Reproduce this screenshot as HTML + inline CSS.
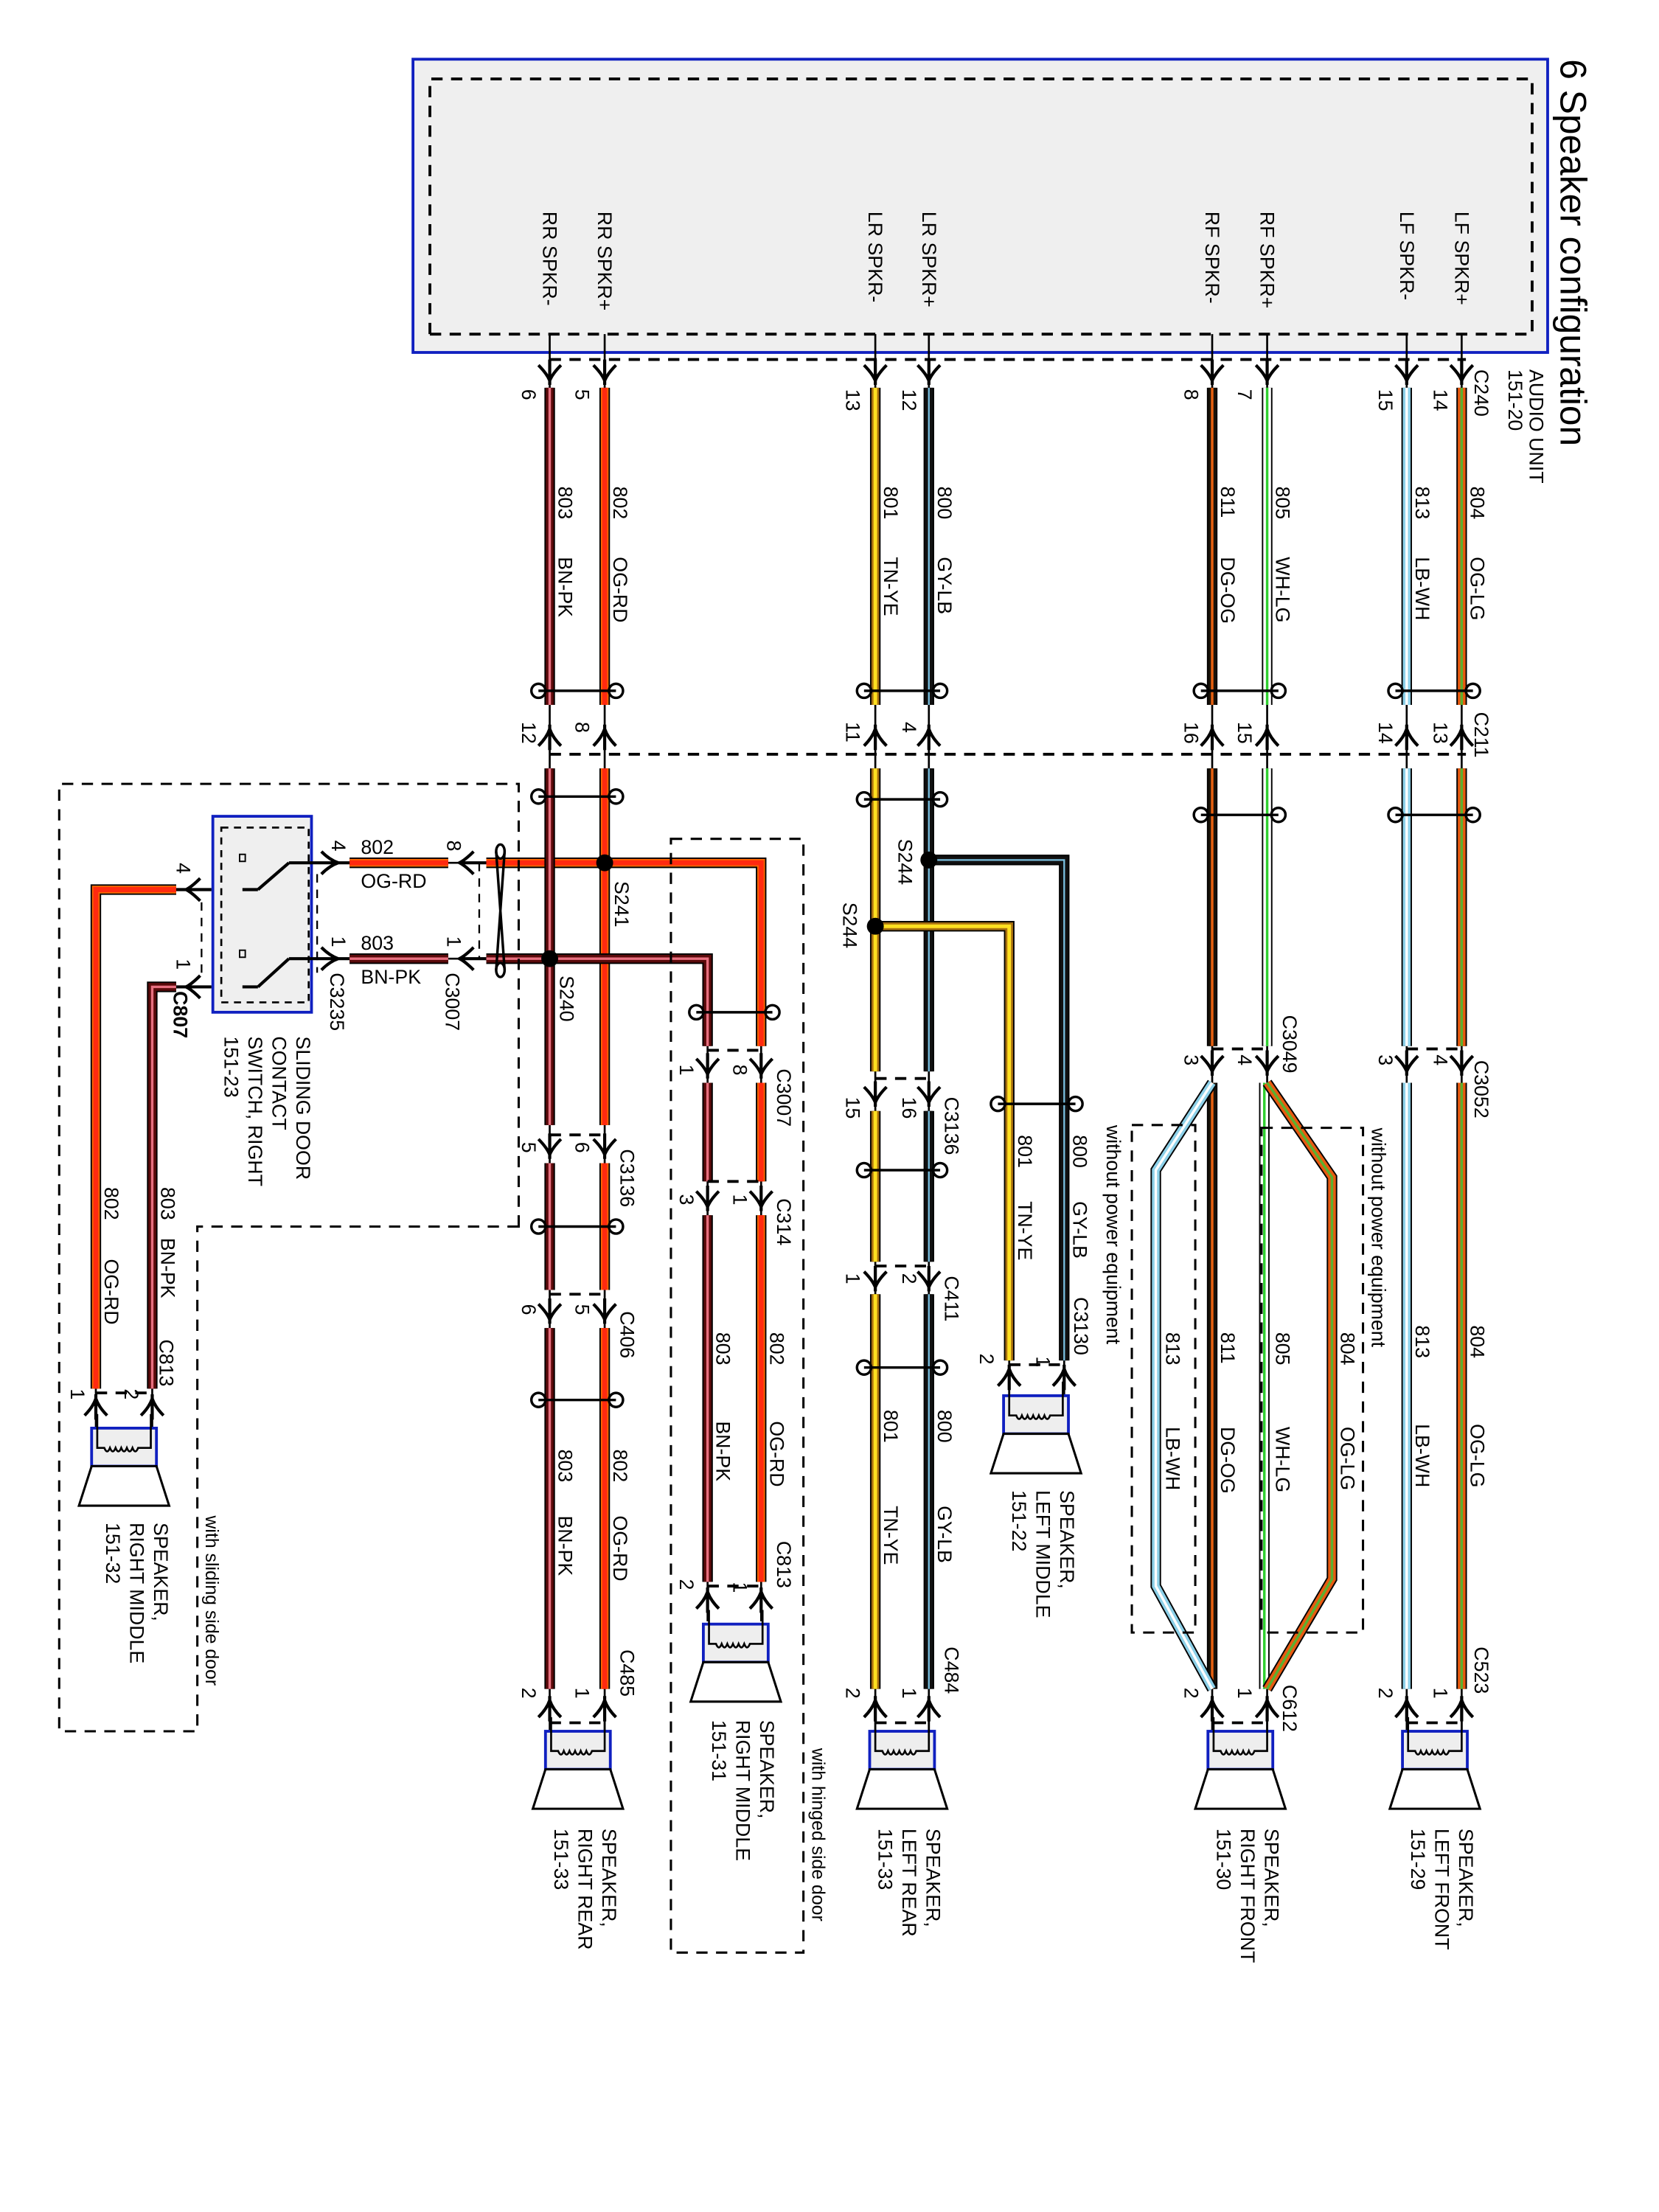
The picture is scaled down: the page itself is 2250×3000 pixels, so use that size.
<!DOCTYPE html>
<html><head><meta charset="utf-8"><style>
html,body{margin:0;padding:0;background:#fff}
svg{display:block}
text{font-family:"Liberation Sans",Arial,sans-serif;font-size:14px;fill:#000;dominant-baseline:central}
.k{stroke:#000;stroke-width:7.5;fill:none}
.c{stroke-width:5.5;fill:none}
.s{stroke-width:1.8;fill:none}
.t{stroke:#000;stroke-width:1.4;fill:none}
.d{stroke:#000;stroke-width:2;fill:none;stroke-dasharray:8 6}
.dt{stroke:#000;stroke-width:1.2;fill:none;stroke-dasharray:6 5}
.a{stroke:#000;stroke-width:2.2;fill:none}
</style></head><body>
<svg width="2250" height="3000" viewBox="0 0 1177 1569" preserveAspectRatio="none" xmlns="http://www.w3.org/2000/svg">
<defs>
<g id="arr"><path class="a" d="M-8 -5 Q-2 1 0 6 Q2 1 8 -5 M0 -9 V9"/></g>
<g id="aru"><path class="a" d="M-8 6 Q-2 0 0 -6 Q2 0 8 6 M0 -9 V9"/></g>
<g id="spk">
<rect x="-23" y="0" width="46" height="27" fill="#eee" stroke="#1020c0" stroke-width="2"/>
<path class="t" d="M-19 -10 V14 H-14 q2 5 4 0 q2 5 4 0 q2 5 4 0 q2 5 4 0 q2 5 4 0 q2 5 4 0 H19 V-10"/>
<path d="M-23 27 H23 L32 55 H-32 Z" fill="#fff" stroke="#000" stroke-width="1.6"/>
</g>
</defs>

<!-- Audio unit -->
<rect x="293" y="42" width="805" height="208" fill="#efefef" stroke="#1020c0" stroke-width="2"/>
<path class="d" d="M305 237 V56 H1087 V237 H305"/>
<path class="d" d="M390 255 H1040"/>
<text transform="translate(1116,42) rotate(90)" style="font-size:26px">6 Speaker configuration</text>
<text transform="translate(1090,262) rotate(90)">AUDIO UNIT</text>
<text transform="translate(1075,262) rotate(90)">151-20</text>
<text transform="translate(1051,262) rotate(90)">C240</text>
<text transform="translate(1037,150) rotate(90)">LF SPKR+</text>
<text transform="translate(998,150) rotate(90)">LF SPKR-</text>
<text transform="translate(899,150) rotate(90)">RF SPKR+</text>
<text transform="translate(860,150) rotate(90)">RF SPKR-</text>
<text transform="translate(659,150) rotate(90)">LR SPKR+</text>
<text transform="translate(621,150) rotate(90)">LR SPKR-</text>
<text transform="translate(429,150) rotate(90)">RR SPKR+</text>
<text transform="translate(390,150) rotate(90)">RR SPKR-</text>

<!-- thin under-lines -->
<path class="t" d="M1037 237 V1228 M998 237 V1228 M899 237 V1228 M860 237 V1228 M659 237 V1228 M621 237 V1228 M429 237 V1228 M390 237 V1228 M540 742 V1150 M502 742 V1150 M755 900 V992 M716 900 V992 M68 960 V1013 M108 960 V1013 M345 612 H318 M345 680 H318 M248 612 H215 M248 680 H215 M125 631 H150 M125 700 H150"/>

<!-- LF -->
<g><path class="k" d="M1037 275 V500 M1037 545 V742 M1037 768 V1198"/><path class="c" stroke="#e85a10" d="M1037 275 V500 M1037 545 V742 M1037 768 V1198"/><path class="s" stroke="#5bb030" d="M1037 275 V500 M1037 545 V742 M1037 768 V1198"/></g>
<g><path class="k" d="M998 275 V500 M998 545 V742 M998 768 V1198"/><path class="c" stroke="#8cd0e8" d="M998 275 V500 M998 545 V742 M998 768 V1198"/><path class="s" stroke="#fff" d="M998 275 V500 M998 545 V742 M998 768 V1198"/></g>
<!-- RF -->
<g><path class="k" d="M899 275 V500 M899 545 V742 M897 768 V1198"/><path class="c" stroke="#fff" d="M899 275 V500 M899 545 V742 M897 768 V1198"/><path class="s" stroke="#30d030" d="M899 275 V500 M899 545 V742 M897 768 V1198"/></g>
<g><path class="k" d="M860 275 V500 M860 545 V742 M860 768 V1198"/><path class="c" stroke="#1a1208" d="M860 275 V500 M860 545 V742 M860 768 V1198"/><path class="s" stroke="#e86010" d="M860 275 V500 M860 545 V742 M860 768 V1198"/></g>
<g><path class="k" d="M899 768 L945 835 V1120 L899 1198"/><path class="c" stroke="#e85a10" d="M899 768 L945 835 V1120 L899 1198"/><path class="s" stroke="#5bb030" d="M899 768 L945 835 V1120 L899 1198"/></g>
<g><path class="k" d="M860 768 L820 830 V1125 L860 1198"/><path class="c" stroke="#8cd0e8" d="M860 768 L820 830 V1125 L860 1198"/><path class="s" stroke="#fff" d="M860 768 L820 830 V1125 L860 1198"/></g>
<!-- LR -->
<g><path class="k" d="M659 275 V500 M659 545 V760 M659 788 V895 M659 918 V1198 M659 610 H755 V965"/><path class="c" stroke="#111" d="M659 275 V500 M659 545 V760 M659 788 V895 M659 918 V1198 M659 610 H755 V965"/><path class="s" stroke="#7ac0e0" d="M659 275 V500 M659 545 V760 M659 788 V895 M659 918 V1198 M659 610 H755 V965" style="stroke-width:1.2"/></g>
<g><path class="k" d="M621 275 V500 M621 545 V760 M621 788 V895 M621 918 V1198 M621 657 H716 V965"/><path class="c" stroke="#a87010" d="M621 275 V500 M621 545 V760 M621 788 V895 M621 918 V1198 M621 657 H716 V965"/><path class="s" stroke="#ffe020" d="M621 275 V500 M621 545 V760 M621 788 V895 M621 918 V1198 M621 657 H716 V965" style="stroke-width:2.6"/></g>
<!-- RR -->
<g><path class="k" d="M429 275 V500 M429 545 V798 M429 825 V915 M429 942 V1198 M429 612 H540 V742 M540 768 V838 M540 862 V1122 M429 612 H345 M318 612 H248 M125 631 H68 V985"/><path class="c" stroke="#ff6a00" d="M429 275 V500 M429 545 V798 M429 825 V915 M429 942 V1198 M429 612 H540 V742 M540 768 V838 M540 862 V1122 M429 612 H345 M318 612 H248 M125 631 H68 V985"/><path class="s" stroke="#ff2a10" d="M429 275 V500 M429 545 V798 M429 825 V915 M429 942 V1198 M429 612 H540 V742 M540 768 V838 M540 862 V1122 M429 612 H345 M318 612 H248 M125 631 H68 V985" style="stroke-width:3.6"/></g>
<g><path class="k" d="M390 275 V500 M390 545 V798 M390 825 V915 M390 942 V1198 M390 680 H502 V742 M502 768 V838 M502 862 V1122 M390 680 H345 M318 680 H248 M125 700 H108 V985"/><path class="c" stroke="#5a0a0a" d="M390 275 V500 M390 545 V798 M390 825 V915 M390 942 V1198 M390 680 H502 V742 M502 768 V838 M502 862 V1122 M390 680 H345 M318 680 H248 M125 700 H108 V985"/><path class="s" stroke="#e87080" d="M390 275 V500 M390 545 V798 M390 825 V915 M390 942 V1198 M390 680 H502 V742 M502 768 V838 M502 862 V1122 M390 680 H345 M318 680 H248 M125 700 H108 V985"/></g>

<!-- splices -->
<circle cx="659" cy="610" r="6"/><circle cx="621" cy="657" r="6"/><circle cx="429" cy="612" r="6"/><circle cx="390" cy="680" r="6"/>
<text transform="translate(642,595) rotate(90)">S244</text>
<text transform="translate(603,640) rotate(90)">S244</text>
<text transform="translate(441,625) rotate(90)">S241</text>
<text transform="translate(402,692) rotate(90)">S240</text>

<!-- twists -->
<g class="t" style="stroke-width:1.8">
<path d="M990 490 H1045"/><ellipse cx="990" cy="490" rx="5" ry="5"/><ellipse cx="1045" cy="490" rx="5" ry="5"/>
<path d="M852 490 H907"/><ellipse cx="852" cy="490" rx="5" ry="5"/><ellipse cx="907" cy="490" rx="5" ry="5"/>
<path d="M613 490 H667"/><ellipse cx="613" cy="490" rx="5" ry="5"/><ellipse cx="667" cy="490" rx="5" ry="5"/>
<path d="M382 490 H437"/><ellipse cx="382" cy="490" rx="5" ry="5"/><ellipse cx="437" cy="490" rx="5" ry="5"/>
<path d="M990 578 H1045"/><ellipse cx="990" cy="578" rx="5" ry="5"/><ellipse cx="1045" cy="578" rx="5" ry="5"/>
<path d="M852 578 H907"/><ellipse cx="852" cy="578" rx="5" ry="5"/><ellipse cx="907" cy="578" rx="5" ry="5"/>
<path d="M613 567 H667"/><ellipse cx="613" cy="567" rx="5" ry="5"/><ellipse cx="667" cy="567" rx="5" ry="5"/>
<path d="M382 565 H437"/><ellipse cx="382" cy="565" rx="5" ry="5"/><ellipse cx="437" cy="565" rx="5" ry="5"/>
<path d="M613 830 H667"/><ellipse cx="613" cy="830" rx="5" ry="5"/><ellipse cx="667" cy="830" rx="5" ry="5"/>
<path d="M613 970 H667"/><ellipse cx="613" cy="970" rx="5" ry="5"/><ellipse cx="667" cy="970" rx="5" ry="5"/>
<path d="M382 870 H437"/><ellipse cx="382" cy="870" rx="5" ry="5"/><ellipse cx="437" cy="870" rx="5" ry="5"/>
<path d="M382 993 H437"/><ellipse cx="382" cy="993" rx="5" ry="5"/><ellipse cx="437" cy="993" rx="5" ry="5"/>
<path d="M494 718 H548"/><ellipse cx="494" cy="718" rx="5" ry="5"/><ellipse cx="548" cy="718" rx="5" ry="5"/>
<path d="M708 783 H763"/><ellipse cx="708" cy="783" rx="5" ry="5"/><ellipse cx="763" cy="783" rx="5" ry="5"/>
<path d="M352 604 L358 688 M358 604 L352 688"/><ellipse cx="355" cy="604" rx="3" ry="5"/><ellipse cx="355" cy="688" rx="3" ry="5"/>
</g>

<!-- connectors -->
<use href="#arr" x="1037" y="264"/><use href="#arr" x="998" y="264"/><use href="#arr" x="899" y="264"/><use href="#arr" x="860" y="264"/>
<use href="#arr" x="659" y="264"/><use href="#arr" x="621" y="264"/><use href="#arr" x="429" y="264"/><use href="#arr" x="390" y="264"/>
<path class="d" d="M390 535 H1040"/>
<use href="#aru" x="1037" y="523"/><use href="#aru" x="998" y="523"/><use href="#aru" x="899" y="523"/><use href="#aru" x="860" y="523"/>
<use href="#aru" x="659" y="523"/><use href="#aru" x="621" y="523"/><use href="#aru" x="429" y="523"/><use href="#aru" x="390" y="523"/>
<path class="d" d="M998 744 H1037 M860 744 H899 M621 765 H659 M621 898 H659 M390 805 H429 M390 918 H429 M502 745 H540 M502 838 H540 M502 1125 H540 M716 968 H755 M68 988 H108 M998 1222 H1037 M860 1222 H899 M621 1222 H659 M390 1222 H429"/>
<use href="#arr" x="1037" y="754"/><use href="#arr" x="998" y="754"/><use href="#arr" x="899" y="754"/><use href="#arr" x="860" y="754"/>
<use href="#arr" x="659" y="776"/><use href="#arr" x="621" y="776"/><use href="#arr" x="659" y="907"/><use href="#arr" x="621" y="907"/>
<use href="#arr" x="429" y="813"/><use href="#arr" x="390" y="813"/><use href="#arr" x="429" y="930"/><use href="#arr" x="390" y="930"/>
<use href="#arr" x="540" y="756"/><use href="#arr" x="502" y="756"/><use href="#arr" x="540" y="850"/><use href="#arr" x="502" y="850"/>
<use href="#aru" x="540" y="1135"/><use href="#aru" x="502" y="1135"/><use href="#aru" x="755" y="977"/><use href="#aru" x="716" y="977"/>
<use href="#aru" x="68" y="998"/><use href="#aru" x="108" y="998"/>
<use href="#aru" x="1037" y="1212"/><use href="#aru" x="998" y="1212"/><use href="#aru" x="899" y="1212"/><use href="#aru" x="860" y="1212"/>
<use href="#aru" x="659" y="1212"/><use href="#aru" x="621" y="1212"/><use href="#aru" x="429" y="1212"/><use href="#aru" x="390" y="1212"/>
<!-- horizontal arrows -->
<g class="a"><path d="M336 604 Q330 610 326 612 Q330 614 336 620 M326 612 H345"/><path d="M336 672 Q330 678 326 680 Q330 682 336 688 M326 680 H345"/>
<path d="M228 604 Q234 610 240 612 Q234 614 228 620 M222 612 H248"/><path d="M228 672 Q234 678 240 680 Q234 682 228 688 M222 680 H248"/>
<path d="M142 623 Q136 629 132 631 Q136 633 142 639 M125 631 H150"/><path d="M142 692 Q136 698 132 700 Q136 702 142 708 M125 700 H150"/></g>
<path class="dt" d="M340 612 V680 M143 640 V695 M225 620 V690"/>

<!-- speakers -->
<use href="#spk" x="1018" y="1228"/><use href="#spk" x="880" y="1228"/><use href="#spk" x="640" y="1228"/><use href="#spk" x="410" y="1228"/>
<use href="#spk" x="522" y="1152"/><use href="#spk" x="735" y="990"/><use href="#spk" x="88" y="1013"/>

<!-- sliding switch -->
<rect x="151" y="579" width="70" height="139" fill="#efefef" stroke="#1020c0" stroke-width="2"/>
<rect x="157" y="587" width="62" height="124" fill="none" stroke="#000" stroke-width="1.4" stroke-dasharray="5 4"/>
<g class="a"><path d="M205 612 H222 M205 612 L183 631 M172 631 H183 M205 680 H222 M205 680 L183 700 M172 700 H183" /></g>
<rect x="170" y="606" width="4" height="5" fill="none" stroke="#000"/><rect x="170" y="674" width="4" height="5" fill="none" stroke="#000"/>

<!-- dashed regions -->
<path class="d" d="M368 870 V556 H42 V1228 H140 V870 Z" style="stroke-width:1.6"/>
<path class="d" d="M476 595 H570 V1385 H476 Z" style="stroke-width:1.6"/>
<path class="d" d="M803 798 H848 V1158 H803 Z" style="stroke-width:1.6"/>
<path class="d" d="M895 800 H967 V1158 H895 Z" style="stroke-width:1.6"/>

<!-- pin numbers -->
<g>
<text transform="translate(1022,276) rotate(90)">14</text><text transform="translate(983,276) rotate(90)">15</text>
<text transform="translate(883,276) rotate(90)">7</text><text transform="translate(845,276) rotate(90)">8</text>
<text transform="translate(645,276) rotate(90)">12</text><text transform="translate(605,276) rotate(90)">13</text>
<text transform="translate(413,276) rotate(90)">5</text><text transform="translate(375,276) rotate(90)">6</text>
<text transform="translate(1051,505) rotate(90)">C211</text>
<text transform="translate(1022,512) rotate(90)">13</text><text transform="translate(983,512) rotate(90)">14</text>
<text transform="translate(883,512) rotate(90)">15</text><text transform="translate(845,512) rotate(90)">16</text>
<text transform="translate(645,512) rotate(90)">4</text><text transform="translate(605,512) rotate(90)">11</text>
<text transform="translate(413,512) rotate(90)">8</text><text transform="translate(375,512) rotate(90)">12</text>
<text transform="translate(1051,752) rotate(90)">C3052</text>
<text transform="translate(1022,748) rotate(90)">4</text><text transform="translate(983,748) rotate(90)">3</text>
<text transform="translate(915,720) rotate(90)">C3049</text>
<text transform="translate(883,748) rotate(90)">4</text><text transform="translate(845,748) rotate(90)">3</text>
<text transform="translate(1051,1168) rotate(90)">C523</text>
<text transform="translate(1022,1197) rotate(90)">1</text><text transform="translate(983,1197) rotate(90)">2</text>
<text transform="translate(915,1195) rotate(90)">C612</text>
<text transform="translate(883,1197) rotate(90)">1</text><text transform="translate(845,1197) rotate(90)">2</text>
<text transform="translate(675,778) rotate(90)">C3136</text>
<text transform="translate(645,778) rotate(90)">16</text><text transform="translate(605,778) rotate(90)">15</text>
<text transform="translate(675,905) rotate(90)">C411</text>
<text transform="translate(645,903) rotate(90)">2</text><text transform="translate(605,903) rotate(90)">1</text>
<text transform="translate(675,1168) rotate(90)">C484</text>
<text transform="translate(645,1197) rotate(90)">1</text><text transform="translate(605,1197) rotate(90)">2</text>
<text transform="translate(767,920) rotate(90)">C3130</text>
<text transform="translate(740,962) rotate(90)">1</text><text transform="translate(700,960) rotate(90)">2</text>
<text transform="translate(445,815) rotate(90)">C3136</text>
<text transform="translate(413,810) rotate(90)">6</text><text transform="translate(375,810) rotate(90)">5</text>
<text transform="translate(445,930) rotate(90)">C406</text>
<text transform="translate(413,925) rotate(90)">5</text><text transform="translate(375,925) rotate(90)">6</text>
<text transform="translate(445,1170) rotate(90)">C485</text>
<text transform="translate(413,1197) rotate(90)">1</text><text transform="translate(375,1197) rotate(90)">2</text>
<text transform="translate(556,758) rotate(90)">C3007</text>
<text transform="translate(525,755) rotate(90)">8</text><text transform="translate(487,755) rotate(90)">1</text>
<text transform="translate(556,850) rotate(90)">C314</text>
<text transform="translate(525,847) rotate(90)">1</text><text transform="translate(487,847) rotate(90)">3</text>
<text transform="translate(556,1093) rotate(90)">C813</text>
<text transform="translate(525,1122) rotate(90)">1</text><text transform="translate(487,1120) rotate(90)">2</text>
<text transform="translate(322,596) rotate(90)">8</text><text transform="translate(322,664) rotate(90)">1</text>
<text transform="translate(321,690) rotate(90)">C3007</text>
<text transform="translate(240,596) rotate(90)">4</text><text transform="translate(240,664) rotate(90)">1</text>
<text transform="translate(239,690) rotate(90)">C3235</text>
<text transform="translate(130,612) rotate(90)">4</text><text transform="translate(130,680) rotate(90)">1</text>
<text transform="translate(128,703) rotate(90)" style="font-weight:bold">C807</text>
<text transform="translate(118,950) rotate(90)">C813</text>
<text transform="translate(55,985) rotate(90)">1</text><text transform="translate(93,985) rotate(90)">2</text>
</g>

<!-- wire labels -->
<g>
<text transform="translate(1048,345) rotate(90)">804</text><text transform="translate(1048,395) rotate(90)">OG-LG</text>
<text transform="translate(1009,345) rotate(90)">813</text><text transform="translate(1009,395) rotate(90)">LB-WH</text>
<text transform="translate(910,345) rotate(90)">805</text><text transform="translate(910,395) rotate(90)">WH-LG</text>
<text transform="translate(871,345) rotate(90)">811</text><text transform="translate(871,395) rotate(90)">DG-OG</text>
<text transform="translate(670,345) rotate(90)">800</text><text transform="translate(670,395) rotate(90)">GY-LB</text>
<text transform="translate(632,345) rotate(90)">801</text><text transform="translate(632,395) rotate(90)">TN-YE</text>
<text transform="translate(440,345) rotate(90)">802</text><text transform="translate(440,395) rotate(90)">OG-RD</text>
<text transform="translate(401,345) rotate(90)">803</text><text transform="translate(401,395) rotate(90)">BN-PK</text>
<text transform="translate(1048,940) rotate(90)">804</text><text transform="translate(1048,1010) rotate(90)">OG-LG</text>
<text transform="translate(1009,940) rotate(90)">813</text><text transform="translate(1009,1010) rotate(90)">LB-WH</text>
<text transform="translate(978,800) rotate(90)">without power equipment</text>
<text transform="translate(790,798) rotate(90)">without power equipment</text>
<text transform="translate(956,945) rotate(90)">804</text><text transform="translate(956,1012) rotate(90)">OG-LG</text>
<text transform="translate(910,945) rotate(90)">805</text><text transform="translate(910,1012) rotate(90)">WH-LG</text>
<text transform="translate(871,945) rotate(90)">811</text><text transform="translate(871,1012) rotate(90)">DG-OG</text>
<text transform="translate(832,945) rotate(90)">813</text><text transform="translate(832,1012) rotate(90)">LB-WH</text>
<text transform="translate(670,1000) rotate(90)">800</text><text transform="translate(670,1068) rotate(90)">GY-LB</text>
<text transform="translate(632,1000) rotate(90)">801</text><text transform="translate(632,1068) rotate(90)">TN-YE</text>
<text transform="translate(766,805) rotate(90)">800</text><text transform="translate(766,852) rotate(90)">GY-LB</text>
<text transform="translate(727,805) rotate(90)">801</text><text transform="translate(727,852) rotate(90)">TN-YE</text>
<text transform="translate(440,1028) rotate(90)">802</text><text transform="translate(440,1075) rotate(90)">OG-RD</text>
<text transform="translate(401,1028) rotate(90)">803</text><text transform="translate(401,1075) rotate(90)">BN-PK</text>
<text transform="translate(551,945) rotate(90)">802</text><text transform="translate(551,1008) rotate(90)">OG-RD</text>
<text transform="translate(513,945) rotate(90)">803</text><text transform="translate(513,1008) rotate(90)">BN-PK</text>
<text x="256" y="601">802</text>
<text x="256" y="625">OG-RD</text>
<text x="256" y="669">803</text>
<text x="256" y="693">BN-PK</text>
<text transform="translate(79,842) rotate(90)">802</text><text transform="translate(79,893) rotate(90)">OG-RD</text>
<text transform="translate(119,842) rotate(90)">803</text><text transform="translate(119,878) rotate(90)">BN-PK</text>
<text transform="translate(150,1075) rotate(90)" style="font-size:13px">with sliding side door</text>
<text transform="translate(580,1240) rotate(90)" style="font-size:13px">with hinged side door</text>
</g>

<!-- component labels -->
<g>
<text transform="translate(1040,1297) rotate(90)">SPEAKER,</text><text transform="translate(1023,1297) rotate(90)">LEFT FRONT</text><text transform="translate(1006,1297) rotate(90)">151-29</text>
<text transform="translate(902,1297) rotate(90)">SPEAKER,</text><text transform="translate(885,1297) rotate(90)">RIGHT FRONT</text><text transform="translate(868,1297) rotate(90)">151-30</text>
<text transform="translate(662,1297) rotate(90)">SPEAKER,</text><text transform="translate(645,1297) rotate(90)">LEFT REAR</text><text transform="translate(628,1297) rotate(90)">151-33</text>
<text transform="translate(432,1297) rotate(90)">SPEAKER,</text><text transform="translate(415,1297) rotate(90)">RIGHT REAR</text><text transform="translate(398,1297) rotate(90)">151-33</text>
<text transform="translate(544,1220) rotate(90)">SPEAKER,</text><text transform="translate(527,1220) rotate(90)">RIGHT MIDDLE</text><text transform="translate(510,1220) rotate(90)">151-31</text>
<text transform="translate(757,1057) rotate(90)">SPEAKER,</text><text transform="translate(740,1057) rotate(90)">LEFT MIDDLE</text><text transform="translate(723,1057) rotate(90)">151-22</text>
<text transform="translate(114,1080) rotate(90)">SPEAKER,</text><text transform="translate(97,1080) rotate(90)">RIGHT MIDDLE</text><text transform="translate(80,1080) rotate(90)">151-32</text>
<text transform="translate(215,735) rotate(90)">SLIDING DOOR</text><text transform="translate(198,735) rotate(90)">CONTACT</text><text transform="translate(181,735) rotate(90)">SWITCH, RIGHT</text><text transform="translate(164,735) rotate(90)">151-23</text>
</g>
</svg>
</body></html>
